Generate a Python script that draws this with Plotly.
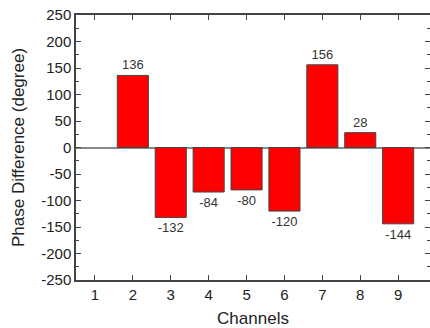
import plotly.graph_objects as go

channels = [2, 3, 4, 5, 6, 7, 8, 9]
phase_diff = [136, -132, -84, -80, -120, 156, 28, -144]
x_ticks = [1, 2, 3, 4, 5, 6, 7, 8, 9]
y_ticks = [-250, -200, -150, -100, -50, 0, 50, 100, 150, 200, 250]

font_family = "Liberation Sans, Arial, sans-serif"

fig = go.Figure(go.Bar(
    x=channels,
    y=phase_diff,
    width=0.82,
    marker=dict(color="#ff0000", line=dict(color="#444444", width=1)),
    text=[str(v) for v in phase_diff],
    textposition="outside",
    textfont=dict(size=13, color="#333333", family=font_family),
    cliponaxis=False,
))

axis_common = dict(
    showline=True, linecolor="#444444", linewidth=1.5, mirror="allticks",
    ticks="inside", ticklen=5, tickwidth=1.2, tickcolor="#444444",
    showgrid=False, automargin=False,
    tickfont=dict(size=15, color="#222222", family=font_family),
)

fig.update_xaxes(
    **axis_common,
    range=[0.5, 9.84],
    tickvals=x_ticks,
    ticktext=[str(t) for t in x_ticks],
    zeroline=False,
    title=dict(text="Channels", font=dict(size=17, color="#222222", family=font_family), standoff=14),
)
fig.update_yaxes(
    **axis_common,
    range=[-250, 250],
    tickvals=y_ticks,
    ticktext=[str(t) for t in y_ticks],
    zeroline=True, zerolinecolor="#888888", zerolinewidth=1.5,
    minor=dict(dtick=25, ticks="inside", ticklen=3, tickcolor="#444444", tickwidth=1),
    title=dict(text="Phase Difference (degree)", font=dict(size=17, color="#222222", family=font_family), standoff=12),
)

fig.update_layout(
    width=430, height=328,
    margin=dict(l=76, r=0, t=15, b=48),
    plot_bgcolor="white", paper_bgcolor="white",
    showlegend=False,
    bargap=0.18,
)

fig.write_html(
    "out.html",
    config={"displayModeBar": False},
    post_script="document.body.style.margin='0';document.body.style.overflow='hidden';",
)
